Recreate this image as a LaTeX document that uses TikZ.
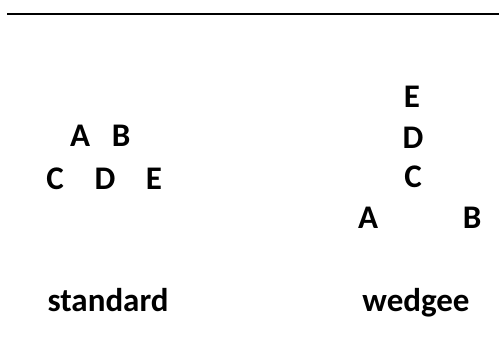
\documentclass[tikz,border=0pt]{standalone}
\usepackage{fontspec}
\setmainfont{Carlito}
\begin{document}
\begin{tikzpicture}[x=1pt,y=-1pt,
  lbl/.style={font=\fontsize{33}{38}\selectfont\bfseries, inner sep=0pt, anchor=base}]
\useasboundingbox (0,0) rectangle (499,349);
\coordinate (l1) at (7,14);
\coordinate (l2) at (499,14);
\draw[line width=2pt] (l1) -- (l2);
% standard
\node[lbl] (sA) at (80,146) {A};
\node[lbl] (sB) at (121,146) {B};
\node[lbl] (sC) at (55,189) {C};
\node[lbl] (sD) at (105,189) {D};
\node[lbl] (sE) at (154,189) {E};
\node[lbl] (std) at (108,311) {standard};
% wedgee
\node[lbl] (wE) at (412,107) {E};
\node[lbl] (wD) at (413,148) {D};
\node[lbl] (wC) at (413,187) {C};
\node[lbl] (wA) at (368,228) {A};
\node[lbl] (wB) at (472,228) {B};
\node[lbl] (wdg) at (416,311) {wedgee};
\end{tikzpicture}
\end{document}
